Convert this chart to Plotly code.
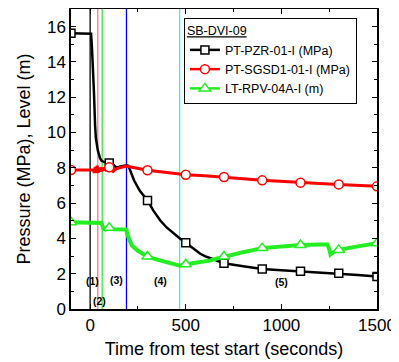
import numpy as np
import plotly.graph_objects as go

# ---------------- data ----------------
pzr_t = [-100, -50, -10, 0, 5, 10, 17, 20, 26, 30, 40, 52, 60, 80, 100, 110, 120, 130, 140, 160,
         180, 190, 200, 210, 230, 260, 300, 330, 366, 400, 450, 471, 500, 550, 576, 600, 650, 700,
         800, 900, 1000, 1100, 1200, 1300, 1400, 1500]
pzr_v = [15.62, 15.62, 15.62, 15.62, 15.6, 14.7, 13.3, 12.3, 10.4, 9.7, 9.0, 8.54, 8.4, 8.3, 8.27, 8.25, 8.2, 8.08, 8.02, 8.08,
         8.12, 8.15, 8.12, 7.85, 7.28, 6.7, 6.15, 5.59, 5.03, 4.62, 4.15, 3.98, 3.75, 3.35, 3.13, 3.0, 2.78, 2.59,
         2.42, 2.27, 2.2, 2.14, 2.08, 2.02, 1.93, 1.84]

sg_t = [-100, -50, 0, 17, 22, 27, 32, 37, 42, 47, 52, 57, 62, 70, 80, 90, 100, 110, 120, 130, 140, 160,
        180, 190, 200, 250, 300, 400, 500, 600, 700, 800, 900, 1000, 1100, 1200, 1300, 1400, 1500]
sg_v = [7.87, 7.87, 7.87, 7.88, 7.72, 8.05, 7.7, 8.12, 7.72, 8.0, 7.78, 8.02, 7.82, 7.95, 7.88, 7.98, 8.03, 7.9, 7.8, 7.9, 7.96, 8.02,
        8.08, 8.1, 8.07, 7.97, 7.86, 7.73, 7.61, 7.55, 7.48, 7.38, 7.29, 7.22, 7.16, 7.11, 7.06, 7.0, 6.95]

lt_t = [-100, -50, 0, 30, 60, 65, 70, 80, 100, 120, 150, 170, 190, 195, 205, 218, 250, 300, 350, 400, 450,
        470, 500, 550, 600, 625, 650, 700, 800, 900, 1000, 1100, 1200, 1240, 1250, 1257, 1270, 1300, 1400, 1500]
lt_v = [4.92, 4.9, 4.9, 4.9, 4.88, 4.7, 4.55, 4.5, 4.6, 4.52, 4.5, 4.5, 4.5, 4.2, 3.98, 3.6, 3.3, 2.97, 2.8, 2.65, 2.52,
        2.45, 2.54, 2.62, 2.68, 2.74, 2.82, 2.97, 3.22, 3.45, 3.55, 3.63, 3.66, 3.66, 3.4, 3.09, 3.2, 3.35, 3.55, 3.72]

marker_times = [-100, 100, 300, 500, 700, 900, 1100, 1300, 1500]

event_times = [0, 40, 63, 190, 468]
event_colors = ["#000000", "#ff7a7a", "#33ee33", "#0000ff", "#44e6ee"]

phase_labels = ["(1)", "(2)", "(3)", "(4)", "(5)"]
phase_x = [15, 48, 136, 366, 1003]
phase_y = [1.6, 0.45, 1.65, 1.6, 1.55]

series_names = ["PT-PZR-01-I (MPa)", "PT-SGSD1-01-I (MPa)", "LT-RPV-04A-I (m)"]
legend_title = "SB-DVI-09"

FONT = "Liberation Sans"

fig = go.Figure()

def add_series(t, v, color, width, symbol, msize, name):
    t = np.array(t); v = np.array(v)
    fig.add_trace(go.Scatter(x=t, y=v, mode="lines", line=dict(color=color, width=width),
                             showlegend=False, hoverinfo="skip"))
    mask = np.isin(t, marker_times)
    fig.add_trace(go.Scatter(x=t[mask], y=v[mask], mode="markers",
                             marker=dict(symbol=symbol, size=msize, color="white",
                                         line=dict(color=color, width=1.5)),
                             showlegend=False, hoverinfo="skip"))
    fig.add_trace(go.Scatter(x=[None], y=[None], mode="lines+markers", name=name,
                             line=dict(color=color, width=2.5),
                             marker=dict(symbol=symbol, size=msize, color="white",
                                         line=dict(color=color, width=1.5))))

add_series(pzr_t, pzr_v, "black", 2.5, "square", 8, series_names[0])
add_series(sg_t, sg_v, "#ff0000", 3, "circle", 9, series_names[1])
add_series(lt_t, lt_v, "#22ee22", 4, "triangle-up", 10, series_names[2])

for t, c in zip(event_times, event_colors):
    fig.add_shape(type="line", xref="x", yref="paper", x0=t, x1=t, y0=0, y1=1,
                  line=dict(color=c, width=1.3), layer="below")

for lab, x, y in zip(phase_labels, phase_x, phase_y):
    fig.add_annotation(x=x, y=y, text="<b>" + lab + "</b>", showarrow=False,
                       font=dict(size=10.5, color="black", family=FONT))

axis_common = dict(showline=True, linecolor="black", linewidth=1.5, mirror="allticks",
                   ticks="inside", ticklen=5, tickwidth=1, tickcolor="black",
                   showgrid=False, zeroline=False, automargin=False,
                   tickfont=dict(size=17, color="black", family=FONT),
                   title_font=dict(size=18, color="black", family=FONT))

fig.update_xaxes(range=[-100, 1500], tick0=0, dtick=500,
                 minor=dict(dtick=250, ticks="inside", ticklen=3, tickcolor="black"),
                 title_text="Time from test start (seconds)", title_standoff=8, **axis_common)
fig.update_yaxes(range=[0, 17], tick0=0, dtick=2,
                 minor=dict(dtick=1, ticks="inside", ticklen=3, tickcolor="black"),
                 title_text="Pressure (MPa), Level (m)", title_standoff=12, **axis_common)

fig.update_layout(
    width=391, height=354,
    margin=dict(l=63, r=22, t=1, b=53),
    plot_bgcolor="white", paper_bgcolor="white",
    font=dict(family=FONT, color="black"),
    legend=dict(x=0.369, y=0.97, xanchor="left", yanchor="top",
                bgcolor="white", bordercolor="black", borderwidth=1,
                font=dict(size=12.5, family=FONT, color="black"),
                title=dict(text="<u>" + legend_title + "</u>", font=dict(size=12.5, family=FONT)),
                tracegroupgap=0, itemwidth=30),
)

fig.write_html("out.html")
